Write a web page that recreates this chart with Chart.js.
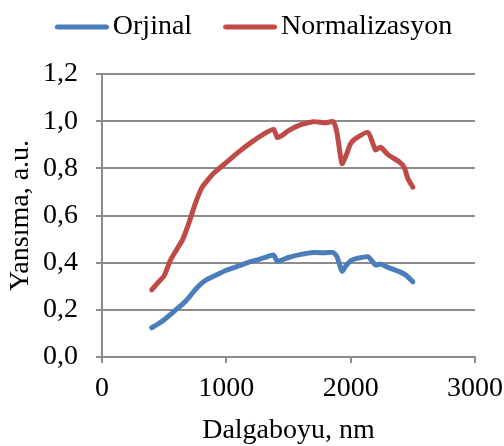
<!DOCTYPE html>
<html>
<head>
<meta charset="utf-8">
<script src="https://cdn.jsdelivr.net/npm/chart.js@4/dist/chart.umd.min.js"></script>
<style>
    html, body { margin: 0; padding: 0; background: #fff; }
    #spectrumChart { display: block; }
</style>
</head>
<body>
<canvas id="spectrumChart" width="504" height="446"></canvas>
<script>
    "use strict";

    // wavelength (nm) and reflectance values of both curves
    const wavelengths = [400, 450, 500, 550, 600, 650, 700, 750, 800, 850, 900, 1000, 1100, 1200, 1300, 1380, 1410, 1450, 1500, 1600, 1700, 1800, 1860, 1890, 1930, 1960, 2000, 2050, 2140, 2200, 2240, 2300, 2390, 2430, 2460, 2500];
    const orjinal = [0.124, 0.14, 0.158, 0.18, 0.203, 0.225, 0.253, 0.285, 0.312, 0.33, 0.343, 0.368, 0.386, 0.405, 0.42, 0.432, 0.405, 0.412, 0.422, 0.435, 0.443, 0.442, 0.443, 0.425, 0.364, 0.385, 0.408, 0.418, 0.425, 0.39, 0.394, 0.38, 0.362, 0.352, 0.34, 0.319];
    const normalizasyon = [0.285, 0.315, 0.345, 0.41, 0.455, 0.5, 0.57, 0.65, 0.715, 0.75, 0.78, 0.825, 0.87, 0.91, 0.945, 0.965, 0.93, 0.94, 0.96, 0.985, 0.998, 0.993, 0.998, 0.95, 0.82, 0.85, 0.905, 0.93, 0.952, 0.878, 0.89, 0.858, 0.828, 0.805, 0.757, 0.72];
    const seriesNames = ['Orjinal', 'Normalizasyon'];
    const xTicks = [0, 1000, 2000, 3000];
    const yTicks = [0, 0.2, 0.4, 0.6, 0.8, 1.0, 1.2];

    const BLUE = '#4A7EBB';
    const RED = '#BE4B48';
    const GRID = '#8C8C8C';
    const FONT = { family: '"Liberation Serif", "Times New Roman", serif', size: 28 };

    // legend swatch: a short thick line sitting in the right part of a small canvas,
    // so it ends just before the label text
    const legendSwatch = function(color) {
        const c = document.createElement('canvas');
        c.width = 66;
        c.height = 8;
        const g = c.getContext('2d');
        g.strokeStyle = color;
        g.lineWidth = 5;
        g.lineCap = 'round';
        g.beginPath();
        g.moveTo(14.5, 4);
        g.lineTo(63.5, 4);
        g.stroke();
        return c;
    };

    // fixed legend height, so the plot area starts a bit lower
    const legendHeight = {
        id: 'legendHeight',
        beforeLayout: function(chart) {
            const legend = chart.legend;
            if (!legend || legend._fixedFit) {
                return;
            }
            const fit = legend.fit;
            legend.fit = function() {
                fit.call(this);
                this.height = 90;
            };
            legend._fixedFit = true;
        }
    };

    const toPoints = function(values) {
        return wavelengths.map((w, i) => ({ x: w, y: values[i] }));
    };

    const lineDataset = function(label, values, color) {
        return {
            label: label,
            data: toPoints(values),
            borderColor: color,
            backgroundColor: color,
            borderWidth: 5,
            borderCapStyle: 'round',
            borderJoinStyle: 'round',
            pointRadius: 0,
            pointStyle: legendSwatch(color),
            tension: 0.2,
            fill: false
        };
    };

    const ctx = document.getElementById('spectrumChart').getContext('2d');
    new Chart(ctx, {
        type: 'line',
        data: {
            datasets: [
                lineDataset(seriesNames[0], orjinal, BLUE),
                lineDataset(seriesNames[1], normalizasyon, RED)
            ]
        },
        plugins: [legendHeight],
        options: {
            responsive: false,
            animation: false,
            layout: { padding: { left: 4, right: 3, top: -16, bottom: -1 } },
            plugins: {
                tooltip: { enabled: false },
                legend: {
                    display: true,
                    position: 'top',
                    labels: {
                        color: '#000',
                        font: FONT,
                        usePointStyle: true,
                        pointStyleWidth: 46,
                        padding: 29
                    }
                }
            },
            scales: {
                x: {
                    type: 'linear',
                    min: 0,
                    max: 3000,
                    afterBuildTicks: function(axis) {
                        axis.ticks = xTicks.map(v => ({ value: v }));
                    },
                    afterFit: function(axis) {
                        axis.paddingRight = 29;
                        axis.height = 90;
                    },
                    ticks: {
                        color: '#000',
                        font: FONT,
                        padding: 9,
                        maxRotation: 0,
                        callback: v => String(v)
                    },
                    grid: {
                        drawOnChartArea: false,
                        drawTicks: true,
                        tickLength: 6,
                        color: GRID,
                        lineWidth: 2
                    },
                    border: { color: GRID, width: 2 },
                    title: {
                        display: true,
                        text: 'Dalgaboyu, nm',
                        color: '#000',
                        font: FONT,
                        padding: { top: 0, bottom: 0 }
                    }
                },
                y: {
                    min: 0,
                    max: 1.2,
                    afterBuildTicks: function(axis) {
                        axis.ticks = yTicks.map(v => ({ value: v }));
                    },
                    afterFit: function(axis) {
                        axis.width = 98;
                    },
                    ticks: {
                        color: '#000',
                        font: FONT,
                        padding: 18,
                        callback: v => v.toFixed(1).replace('.', ',')
                    },
                    grid: {
                        drawOnChartArea: true,
                        drawTicks: true,
                        tickLength: 6,
                        color: GRID,
                        lineWidth: 2
                    },
                    border: { color: GRID, width: 2 },
                    title: {
                        display: true,
                        text: 'Yansıma, a.u.',
                        color: '#000',
                        font: FONT,
                        padding: { top: 0, bottom: 0 }
                    }
                }
            }
        }
    });
</script>
</body>
</html>
